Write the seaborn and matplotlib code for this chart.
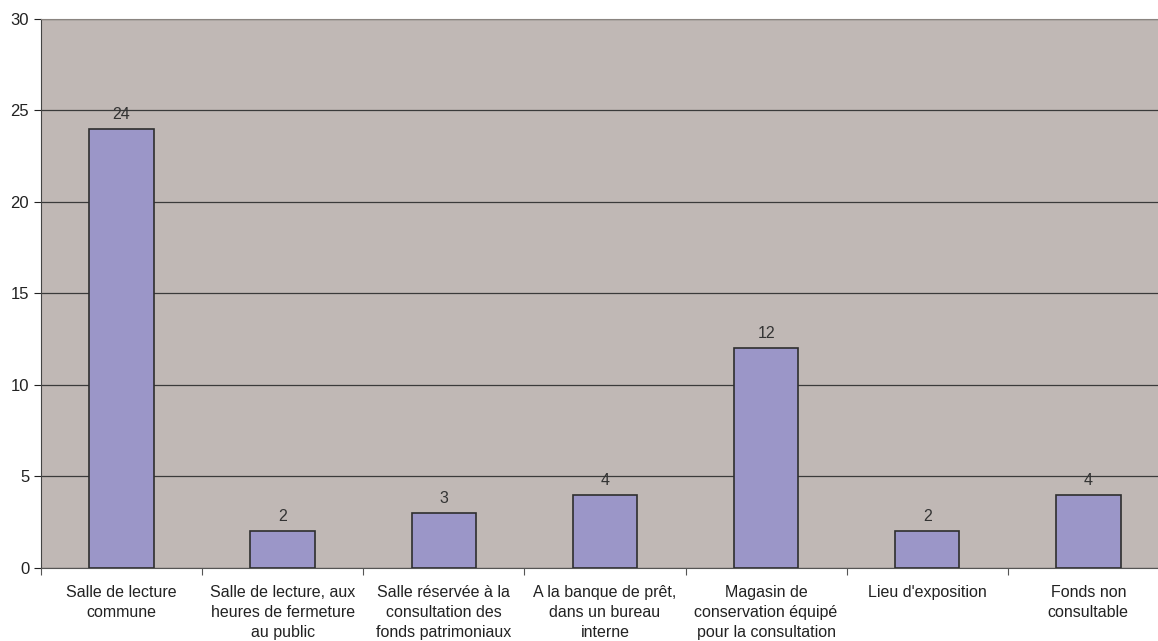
import matplotlib
matplotlib.use("Agg")
import matplotlib.pyplot as plt
import seaborn as sns
import numpy as np
import pandas as pd

# catégories et effectifs
categories = [
    "Salle de lecture\ncommune",
    "Salle de lecture, aux\nheures de fermeture\nau public",
    "Salle réservée à la\nconsultation des\nfonds patrimoniaux",
    "A la banque de prêt,\ndans un bureau\ninterne",
    "Magasin de\nconservation équipé\npour la consultation",
    "Lieu d'exposition",
    "Fonds non\nconsultable",
]
values = [24, 2, 3, 4, 12, 2, 4]

df = pd.DataFrame({"cat": categories, "val": values})

sns.set_style("white")
plt.rcParams['font.family'] = ['Liberation Sans', 'DejaVu Sans']

fig = plt.figure(figsize=(11.58, 6.41), dpi=100)
# la zone de tracé dépasse légèrement le bord droit (comme l'original)
ax = fig.add_axes([0.0354, 0.1139, 0.974, 0.8565])
ax.set_facecolor("#c0b8b5")

sns.barplot(data=df, x="cat", y="val", color="#9b96c8", width=0.40,
            edgecolor="#2e2e2e", linewidth=1.2, saturation=1, ax=ax, zorder=3)

for c in ax.containers:
    ax.bar_label(c, padding=5, fontsize=11.5, color="#333333")

ax.set_ylim(0, 30)
ax.set_xlim(-0.5, 6.5)
ax.set_yticks(range(0, 31, 5))
ax.yaxis.grid(True, color="#3a3a3a", linewidth=0.9, zorder=0)
ax.set_axisbelow(True)

ax.set_xlabel("")
ax.set_ylabel("")
ax.tick_params(axis="x", length=0, labelsize=11.5, colors="#222222", pad=12)
for lbl in ax.get_xticklabels():
    lbl.set_linespacing(1.45)
ax.tick_params(axis="y", length=5, width=0.8, labelsize=12, colors="#222222", left=True)
ax.set_xticks(np.arange(-0.5, 7, 1), minor=True)
ax.tick_params(axis="x", which="minor", length=5, width=0.8, bottom=True, color="#555555")

ax.spines["top"].set_color("#8a8480")
ax.spines["right"].set_visible(False)
ax.spines["left"].set_color("#444444")
ax.spines["bottom"].set_color("#555555")

fig.savefig("out.png", dpi=100)
